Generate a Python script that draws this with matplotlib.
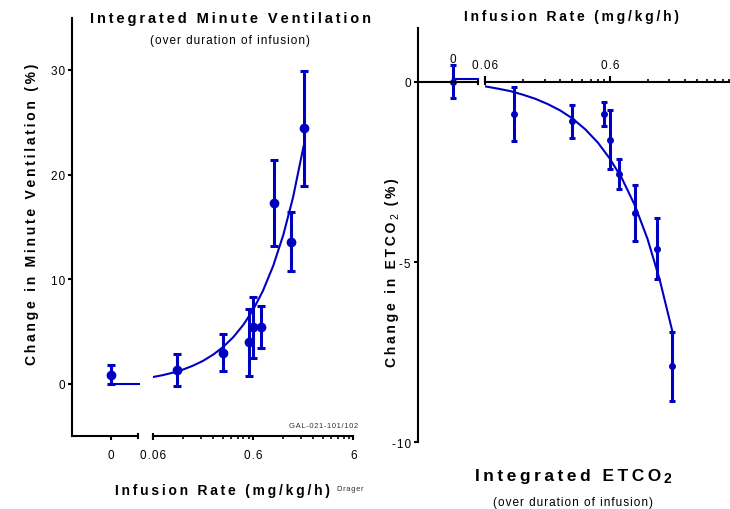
import numpy as np
import matplotlib.pyplot as plt

plt.rcParams['font.family'] = ['Liberation Sans', 'DejaVu Sans']

# Data
# ************************
dose_ticks = [0.06, 0.6, 6]
dose_tick_labels = ['0.06', '0.6', '6']

# Minute ventilation (%), mean +/- error
vent_zero, vent_zero_err = 0.9, 0.95
vent_dose = [0.104, 0.30, 0.54, 0.60, 0.72, 0.96, 1.44, 1.91]
vent_mean = [1.35, 3.0, 4.0, 5.4, 5.45, 17.3, 13.6, 24.4]
vent_err = [1.5, 1.8, 3.2, 2.9, 2.0, 4.1, 2.8, 5.5]
vent_fit_zero = -0.05
fit_dose = [0.06, 0.075, 0.095, 0.12, 0.15, 0.19, 0.24, 0.30,
            0.38, 0.48, 0.60, 0.75, 0.95, 1.2, 1.5, 1.91]
vent_fit = [0.66, 0.84, 1.08, 1.38, 1.74, 2.21, 2.81, 3.52,
            4.47, 5.66, 7.09, 8.88, 11.26, 14.23, 17.8, 22.68]
vent_yticks = [0, 10, 20, 30]

# ETCO2 change (%), mean +/- error
etco_zero, etco_zero_err = 0.0, 0.45
etco_dose = [0.102, 0.30, 0.537, 0.597, 0.713, 0.953, 1.42, 1.90]
etco_mean = [-0.9, -1.1, -0.89, -1.61, -2.56, -3.64, -4.63, -7.89]
etco_err = [0.74, 0.45, 0.33, 0.82, 0.41, 0.79, 0.85, 0.96]
etco_fit_zero = 0.07
etco_fit = [-0.13, -0.19, -0.26, -0.36, -0.47, -0.62, -0.80, -1.02,
            -1.32, -1.69, -2.14, -2.69, -3.43, -4.36, -5.48, -6.96]
etco_yticks = [0, -5, -10]

BLUE = '#0000c0'
W, H = 730, 510


def box(x0, y0, x1, y1):
    # pixel box (top-left origin) -> figure fraction rect
    return [x0 / W, 1 - y1 / H, (x1 - x0) / W, (y1 - y0) / H]


def fx(x):
    return x / W


def fy(y):
    return 1 - y / H


def sp(s, gap='\u2009'):
    return gap.join(s)


def dig(s):
    return sp(s, '\u200a')


fig = plt.figure(figsize=(7.3, 5.1), dpi=100)

axL0 = fig.add_axes(box(71.7, 18.5, 137.7, 437.3))
axL1 = fig.add_axes(box(153, 18.5, 353.3, 437.3))
axR0 = fig.add_axes(box(417.7, 28.6, 477.7, 443.4))
axR1 = fig.add_axes(box(485.3, 28.6, 734.7, 443.4))

minor = [d * k for d in dose_ticks[:2] for k in range(2, 10)]

for ax in (axL0, axL1, axR0, axR1):
    ax.set_facecolor('none')
    for s in ax.spines.values():
        s.set_linewidth(1.5)

# Left panel
# **********
for ax in (axL0, axL1):
    ax.set_ylim(-5, 35)
    ax.spines['top'].set_visible(False)
    ax.spines['right'].set_visible(False)
axL1.spines['left'].set_visible(False)
axL1.yaxis.set_visible(False)

axL0.set_xlim(-39, 27)
axL0.set_xticks([0])
axL0.set_xticklabels(['0'])
axL0.set_yticks(vent_yticks)
axL0.set_yticklabels([dig(str(v)) for v in vent_yticks])
axL0.tick_params(direction='out', length=3, width=1.5, labelsize=8.5, pad=2)
axL0.tick_params(axis='x', pad=6)

axL1.set_xscale('log')
axL1.set_xlim(0.06, 6)
axL1.set_xticks(dose_ticks)
axL1.set_xticklabels([dig(s) for s in dose_tick_labels])
axL1.set_xticks(minor, minor=True)
axL1.xaxis.set_minor_formatter(plt.NullFormatter())
axL1.tick_params(axis='x', which='major', direction='out', length=3, width=1.5, labelsize=8.5, pad=6)
axL1.tick_params(axis='x', which='minor', direction='out', length=2, width=1.2)

axL0.plot([1], [0], marker='|', ms=4.5, mew=1.5, color='k', transform=axL0.transAxes, clip_on=False)
axL1.plot([0], [0], marker='|', ms=4.5, mew=1.5, color='k', transform=axL1.transAxes, clip_on=False)

axL0.errorbar([0], [vent_zero], yerr=[vent_zero_err], fmt='o', color=BLUE, ms=6,
              elinewidth=2.2, capsize=3, capthick=2.2)
axL0.plot([0, 28.5], [vent_fit_zero] * 2, color=BLUE, lw=1.5, clip_on=False)
axL1.errorbar(vent_dose, vent_mean, yerr=vent_err, fmt='o', color=BLUE, ms=6,
              elinewidth=2.2, capsize=3, capthick=2.2)
axL1.plot(fit_dose, vent_fit, color=BLUE, lw=1.5)

# Right panel
# ***********
for ax in (axR0, axR1):
    ax.set_ylim(-10, 1.5)
    ax.spines['bottom'].set_visible(False)
    ax.spines['right'].set_visible(False)
    ax.spines['top'].set_position(('data', 0))
    ax.xaxis.set_ticks_position('top')
axR1.spines['left'].set_visible(False)
axR1.yaxis.set_visible(False)

axR0.set_xlim(-35, 25)
axR0.set_xticks([0])
axR0.set_xticklabels(['0'])
axR0.set_yticks(etco_yticks)
axR0.set_yticklabels([dig(str(v)) for v in etco_yticks])
axR0.tick_params(direction='out', length=3, width=1.5, labelsize=8.5, pad=2)
axR0.tick_params(axis='x', pad=9)

axR1.set_xscale('log')
axR1.set_xlim(0.06, 6)
axR1.set_xticks(dose_ticks)
axR1.set_xticklabels([dig(s) for s in dose_tick_labels])
axR1.set_xticks(minor, minor=True)
axR1.xaxis.set_minor_formatter(plt.NullFormatter())
axR1.tick_params(axis='x', which='major', direction='out', length=4, width=1.5, labelsize=8.5, pad=4)
axR1.tick_params(axis='x', which='minor', direction='out', length=2.5, width=1.2)

axR0.plot([25], [0], marker='|', ms=4.5, mew=1.5, color='k', clip_on=False)
axR1.plot([0.06], [0], marker='|', ms=4.5, mew=1.5, color='k', clip_on=False)

axR0.errorbar([0], [etco_zero], yerr=[etco_zero_err], fmt='o', color=BLUE, ms=4,
              elinewidth=2.2, capsize=2.5, capthick=2.2)
axR0.plot([0, 25], [etco_fit_zero] * 2, color=BLUE, lw=1.5, clip_on=False)
axR1.errorbar(etco_dose, etco_mean, yerr=etco_err, fmt='o', color=BLUE, ms=4,
              elinewidth=2.2, capsize=2.5, capthick=2.2)
axR1.plot(fit_dose, etco_fit, color=BLUE, lw=1.5)

# Titles and labels
# *****************
fig.text(fx(230), fy(19), sp('Integrated Minute Ventilation'), ha='center', va='center',
         fontsize=10.5, fontweight='bold')
fig.text(fx(230), fy(41), sp('(over duration of infusion)', '\u200a'), ha='center', va='center',
         fontsize=8.5)
fig.text(fx(31.7), fy(214), sp('Change in Minute Ventilation (%)'), ha='center', va='center',
         rotation=90, fontsize=10, fontweight='bold')
fig.text(fx(222), fy(491), sp('Infusion Rate (mg/kg/h)'), ha='center', va='center',
         fontsize=10, fontweight='bold')
fig.text(fx(337), fy(490), sp('Drager', '\u200a'), ha='left', va='center', fontsize=5.5, color='#333333')
fig.text(fx(357.7), fy(426.7), sp('GAL-021-101/102', '\u200a'), ha='right', va='center',
         fontsize=5.5, color='#333333')

fig.text(fx(571.7), fy(16.7), sp('Infusion Rate (mg/kg/h)'), ha='center', va='center',
         fontsize=10, fontweight='bold')

t1 = fig.text(fx(391.7), fy(366.7), sp('Change in ETCO'), ha='center', va='bottom',
              rotation=90, fontsize=10, fontweight='bold')
t2 = axR0.annotate('2', xy=(1, 1), xycoords=t1, xytext=(1.5, 1.5), textcoords='offset points',
                   ha='right', va='bottom', rotation=90, fontsize=7.5, annotation_clip=False)
axR0.annotate(sp(' (%)'), xy=(1, 1), xycoords=(t1, t2), xytext=(0, 1), textcoords='offset points',
              ha='right', va='bottom', rotation=90, fontsize=10, fontweight='bold',
              annotation_clip=False)

t3 = fig.text(fx(568), fy(477), sp('Integrated ETCO'), ha='center', va='center',
              fontsize=12.5, fontweight='bold')
axR0.annotate('2', xy=(1, 0), xycoords=t3, xytext=(2, -1), textcoords='offset points',
              ha='left', va='bottom', fontsize=10, fontweight='bold', annotation_clip=False)
fig.text(fx(573), fy(503), sp('(over duration of infusion)', '\u200a'), ha='center', va='center',
         fontsize=8.5)

fig.savefig('out.png', dpi=100)
